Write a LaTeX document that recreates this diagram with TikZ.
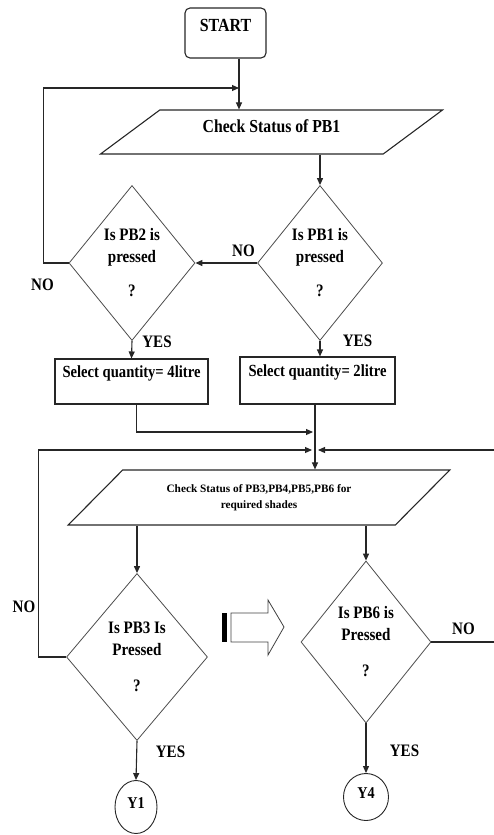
\documentclass[tikz,border=0pt]{standalone}
\usepackage{fontspec}
\setmainfont{Liberation Serif}[FakeStretch=0.86]
\newfontfamily\smallserif{Liberation Serif}
\usetikzlibrary{arrows.meta, shapes.geometric}

\tikzset{
  flowline/.style={line width=1.1pt, black!85},
  flowarrow/.style={flowline, -{Triangle[length=7pt, width=6pt]}},
  decision/.style={diamond, draw=black!70, line width=0.8pt, aspect=0.8,
                   inner sep=0pt, align=center,
                   font=\bfseries\fontsize{17.5}{22}\selectfont},
  iobox/.style={trapezium, trapezium stretches=true, draw=black!85,
                line width=1.1pt, inner sep=0pt, align=center},
  procbox/.style={rectangle, draw=black!85, line width=1.1pt,
                  text height=12pt, text depth=20pt,
                  font=\bfseries\fontsize{17}{20}\selectfont},
  endbox/.style={ellipse, draw=black!85, line width=0.9pt, inner sep=0pt,
                 text height=11pt, text depth=9pt,
                 font=\bfseries\fontsize{16.5}{20}\selectfont},
  tag/.style={inner sep=0pt, font=\bfseries\fontsize{17.5}{20}\selectfont}
}

\begin{document}
\begin{tikzpicture}[x=1pt, y=-1pt]
  \useasboundingbox (0,0) rectangle (494,835);
  % start and first status check
  \node[draw=black!85, rounded corners=5pt, line width=1.1pt, minimum width=81pt,
        minimum height=50pt, text height=12pt, text depth=16pt,
        font=\bfseries\fontsize{18.5}{20}\selectfont] (start) at (225.5,33) {START};
  \node[iobox, trapezium left angle=33.3, trapezium right angle=146.7,
        minimum width=343pt, minimum height=44pt, text height=12pt, text depth=12pt,
        font=\bfseries\fontsize{18.3}{20}\selectfont] (chk1) at (271.5,132) {Check Status of PB1};
  \coordinate (in1) at (239,88);
  \draw[flowarrow] ([xshift=13.5pt]start.south) -- ([xshift=13.5pt]start.south |- chk1.north);

  % PB1 / PB2 decisions
  \node[decision, minimum width=125pt, minimum height=155pt] (d1) at (320,263)
    {Is PB1 is\\pressed\\[12pt]?};
  \node[decision, minimum width=126pt, minimum height=155pt] (d2) at (132,263)
    {Is PB2 is\\pressed\\[12pt]?};
  \draw[flowarrow] (chk1.south -| d1.north) -- (d1.north);
  \draw[flowarrow] (d1.west) -- (d2.east);
  \draw[flowarrow] (d2.west) -- ++(-25,0) |- (in1);
  \node[tag] (no1) at (243.5,251) {NO};
  \node[tag] (no2) at (42.5,285) {NO};
  \node[tag] (yes2) at (157,342) {YES};
  \node[tag] (yes1) at (357.5,340.5) {YES};

  % quantity selection
  \node[procbox, minimum width=153pt, minimum height=45pt] (q4) at (131.5,381.5) {Select quantity= 4litre};
  \node[procbox, minimum width=155pt, minimum height=47pt] (q2) at (317.5,380.5) {Select quantity= 2litre};
  \draw[flowarrow] (d2.south) -- (q4.north);
  \draw[flowarrow] (d1.south) -- (d1.south |- q2.north);

  % second status check
  \node[iobox, trapezium left angle=35.5, trapezium right angle=144.5,
        minimum width=382pt, minimum height=55pt,
        font=\smallserif\bfseries\fontsize{11.3}{16}\selectfont] (chk2) at (259,497.5)
    {Check Status of PB3,PB4,PB5,PB6 for\\required shades};
  \coordinate (in2) at (315,432);
  \coordinate (in3) at (315,450);
  \draw[flowarrow] ([xshift=5pt]q4.south) |- ([xshift=-2pt]in2);
  \draw[flowarrow] (q2.south -| in2) -- (in2 |- chk2.north);

  % PB3 / PB6 decisions
  \node[decision, minimum width=141pt, minimum height=167pt] (d3) at (137,657)
    {Is PB3 Is\\Pressed\\[14pt]?};
  \node[decision, minimum width=130pt, minimum height=162pt] (d6) at (366,642)
    {Is PB6 is\\Pressed\\[14pt]?};
  \draw[flowarrow] (chk2.south -| d3.north) -- (d3.north);
  \draw[flowarrow] (chk2.south -| d6.north) -- (d6.north);
  \draw[flowarrow] (d3.west) -- ++(-28,0) |- ([xshift=-3pt]in3);
  \draw[flowarrow] (d6.east) -- ++(64,0) |- ([xshift=3pt]in3);
  \node[tag] (no3) at (24,606.5) {NO};
  \node[tag] (no6) at (463.5,629) {NO};
  \node[tag] (yes3) at (170.5,752) {YES};
  \node[tag] (yes6) at (404.5,750.5) {YES};

  % connectors to the next pages
  \node[endbox, minimum width=42pt, minimum height=53pt] (y1) at (136,807) {Y1};
  \node[endbox, minimum width=45pt, minimum height=47pt] (y4) at (366,797) {Y4};
  \draw[flowarrow] (d3.south) -- (y1.north);
  \draw[flowarrow] (d6.south) -- (y4.north);

  % hollow arrow between the two decisions
  \fill[black] (222,613) rectangle (227,642);
  \draw[line width=0.8pt, black!75] (231,613) -- (268,613) -- (268,600) -- (284,627)
    -- (268,655) -- (268,642) -- (231,642) -- cycle;
\end{tikzpicture}
\end{document}
